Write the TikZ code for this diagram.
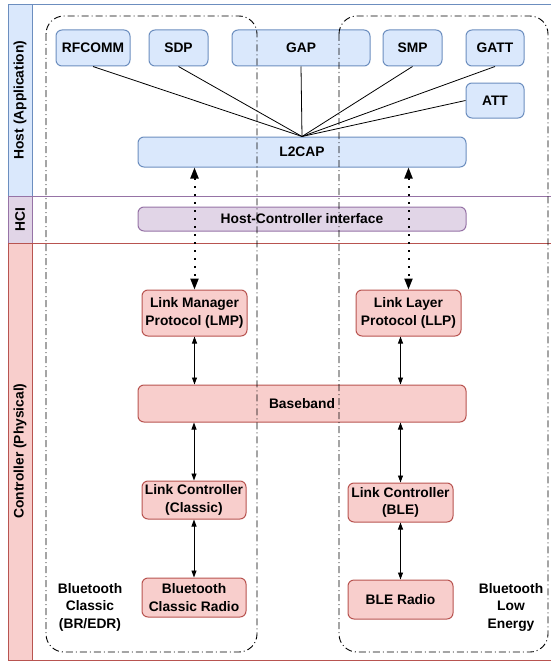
\documentclass[tikz,border=0pt]{standalone}
\usepackage{fontspec}
\setmainfont{Liberation Sans}
\usetikzlibrary{arrows.meta}

\definecolor{hostfill}{HTML}{DAE8FC}
\definecolor{hostline}{HTML}{6C8EBF}
\definecolor{hcifill}{HTML}{E1D5E7}
\definecolor{hciline}{HTML}{9673A6}
\definecolor{ctrlfill}{HTML}{F8CECC}
\definecolor{ctrlline}{HTML}{B85450}

\begin{document}
\begin{tikzpicture}[
    x=1pt, y=-1pt,
    font=\fontsize{13.8}{17.5}\selectfont\bfseries,
    lane/.style={draw=#1line, line width=1pt},
    lanehead/.style={draw=#1line, fill=#1fill, line width=1pt},
    box/.style={rectangle, draw=#1line, fill=#1fill, rounded corners=6pt, align=center, line width=1pt, inner sep=0pt},
    group/.style={draw, line width=0.9pt, rounded corners=18pt, dash pattern=on 7pt off 3pt on 1pt off 3pt},
    link/.style={line width=0.8pt},
    arrow/.style={{Triangle[length=7pt,width=5pt]}-{Triangle[length=7pt,width=5pt]}, line width=0.9pt},
    dotarrow/.style={{Triangle[length=11pt,width=8pt]}-{Triangle[length=11pt,width=8pt]}, line width=2pt, dash pattern=on 2pt off 6pt}
]
\useasboundingbox (0,0) rectangle (550,661);

\draw[lane=host] (8,5) rectangle (553,196);
\draw[lane=hci] (8,196) rectangle (553,243);
\draw[lane=ctrl] (8,243) rectangle (553,660);
\draw[lanehead=host] (8,5) rectangle (32,196);
\draw[lanehead=hci] (8,196) rectangle (32,243);
\draw[lanehead=ctrl] (8,243) rectangle (32,660);
\node[rotate=90] (hosttitle) at (20,100) {Host (Application)};
\node[rotate=90] (hcititle) at (20,220) {HCI};
\node[rotate=90] (ctrltitle) at (20,451) {Controller (Physical)};

\node[box=host, minimum width=74pt, minimum height=36pt] (rfcomm) at (93,48) {RFCOMM};
\node[box=host, minimum width=59pt, minimum height=36pt] (sdp) at (178.5,48) {SDP};
\node[box=host, minimum width=138pt, minimum height=36pt] (gap) at (301,48) {GAP};
\node[box=host, minimum width=59pt, minimum height=36pt] (smp) at (412.5,48) {SMP};
\node[box=host, minimum width=58pt, minimum height=36pt] (gatt) at (495,48) {GATT};
\node[box=host, minimum width=58pt, minimum height=35pt] (att) at (495,100.5) {ATT};
\node[box=host, minimum width=328pt, minimum height=30pt] (l2cap) at (302,152) {L2CAP};
\node[box=hci, minimum width=328pt, minimum height=24pt] (hci) at (302,219) {Host-Controller interface};

\node[box=ctrl, minimum width=105pt, minimum height=46pt] (lmp) at (194.5,313) {Link Manager\\Protocol (LMP)};
\node[box=ctrl, minimum width=105pt, minimum height=46pt] (llp) at (408.5,313) {Link Layer\\Protocol (LLP)};
\node[box=ctrl, minimum width=328pt, minimum height=37pt] (base) at (302,403.5) {Baseband};
\node[box=ctrl, minimum width=104pt, minimum height=38pt] (lcc) at (194,500) {Link Controller\\(Classic)};
\node[box=ctrl, minimum width=104pt, minimum height=39pt] (rcc) at (194,597.5) {Bluetooth\\Classic Radio};
\node[box=ctrl, minimum width=105pt, minimum height=39pt] (lcb) at (400.5,502.5) {Link Controller\\(BLE)};
\node[box=ctrl, minimum width=105pt, minimum height=39pt] (rble) at (400.5,599.5) {BLE Radio};

\draw[link] (rfcomm.south) -- (l2cap.north);
\draw[link] (sdp.south) -- (l2cap.north);
\draw[link] (gap.south) -- (l2cap.north);
\draw[link] (smp.south) -- (l2cap.north);
\draw[link] (gatt.south) -- (l2cap.north);
\draw[link] (att.west) -- (l2cap.north);

\draw[dotarrow] (lmp.north |- l2cap.south) -- (lmp.north);
\draw[dotarrow] (llp.north |- l2cap.south) -- (llp.north);
\draw[arrow] (lmp.south) -- (lmp.south |- base.north);
\draw[arrow] (lcc.north |- base.south) -- (lcc.north);
\draw[arrow] (lcc.south) -- (rcc.north);
\draw[arrow] (lcb.north |- llp.south) -- (lcb.north |- base.north);
\draw[arrow] (lcb.north |- base.south) -- (lcb.north);
\draw[arrow] (lcb.south) -- (rble.north);

\draw[group] (46,16) rectangle (257,652);
\draw[group] (339,16) rectangle (548,652);
\node[align=center] (classic) at (90,607) {Bluetooth\\Classic\\(BR/EDR)};
\node[align=center] (lowenergy) at (511,607) {Bluetooth\\Low\\Energy};
\end{tikzpicture}
\end{document}
